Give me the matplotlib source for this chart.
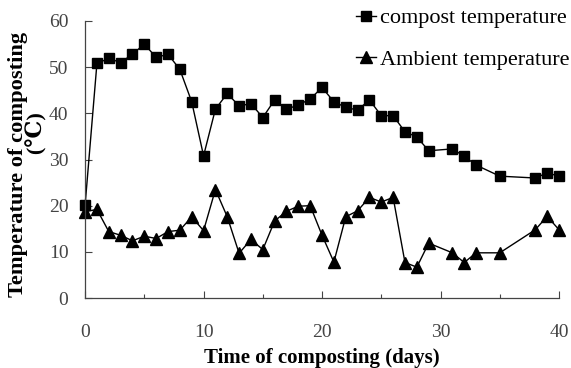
import matplotlib.pyplot as plt
from matplotlib.ticker import MultipleLocator

# days and readings taken from the reference figure
compost_days = [0, 1, 2, 3, 4, 5, 6, 7, 8, 9, 10, 11, 12, 13, 14, 15, 16, 17, 18, 19,
                20, 21, 22, 23, 24, 25, 26, 27, 28, 29, 31, 32, 33, 35, 38, 39, 40]
compost_temp = [20.1, 50.8, 51.9, 51.0, 52.8, 55.0, 52.1, 52.8, 49.5, 42.5, 30.8, 40.9,
                44.3, 41.6, 42.1, 39.1, 42.9, 40.9, 41.8, 43.1, 45.6, 42.5, 41.3, 40.7,
                42.9, 39.5, 39.5, 36.0, 34.9, 31.9, 32.3, 30.7, 28.8, 26.4, 26.0, 27.1, 26.4]
ambient_days = compost_days
ambient_temp = [18.7, 19.2, 14.4, 13.6, 12.4, 13.4, 12.9, 14.4, 14.7, 17.6, 14.6, 23.5,
                17.6, 9.7, 12.7, 10.5, 16.7, 18.8, 19.9, 20.0, 13.6, 7.8, 17.6, 18.9,
                21.8, 20.8, 21.8, 7.7, 6.7, 11.9, 9.8, 7.7, 9.8, 9.8, 14.8, 17.7, 14.8]

SERIF = ["Liberation Serif", "DejaVu Serif"]
plt.rcParams["font.family"] = SERIF

fig = plt.figure(figsize=(5.71, 3.68), dpi=100)
ax = fig.add_axes([0.149, 0.190, 0.830, 0.753])

ax.plot(compost_days, compost_temp, color="black", linewidth=1.0, marker="s",
        markersize=7, label="compost temperature")
ax.plot(ambient_days, ambient_temp, color="black", linewidth=1.0, marker="^",
        markersize=8, label="Ambient temperature")

ax.set_xlim(0, 40)
ax.set_ylim(0, 60)
ax.xaxis.set_major_locator(MultipleLocator(10))
ax.xaxis.set_minor_locator(MultipleLocator(5))
ax.yaxis.set_major_locator(MultipleLocator(10))
ax.tick_params(axis="both", which="major", direction="in", length=5, width=0.8,
               colors="#444444", labelsize=14)
ax.tick_params(axis="y", pad=12)
ax.tick_params(axis="x", pad=19)
ax.tick_params(axis="x", which="minor", direction="in", length=3, width=0.8, colors="#444444")
for side in ("top", "right"):
    ax.spines[side].set_visible(False)
for side in ("left", "bottom"):
    ax.spines[side].set_color("#444444")
    ax.spines[side].set_linewidth(0.9)
for line in ax.lines:
    line.set_clip_on(False)

ax.set_xlabel("Time of composting (days)", fontsize=15, fontweight="bold", va="baseline")
ax.xaxis.set_label_coords(0.5, -0.235)
ax.set_ylabel("Temperature of composting\n           (℃)", fontsize=16.2, fontweight="bold",
              linespacing=0.88)
ax.yaxis.set_label_coords(-0.079, 0.484)

fig.legend(loc="upper right", bbox_to_anchor=(1.02, 1.015), frameon=False,
           fontsize=16, handlelength=0.9, handletextpad=0.15, labelspacing=0.95,
           borderaxespad=0.2)

fig.savefig("out.png", dpi=100)
